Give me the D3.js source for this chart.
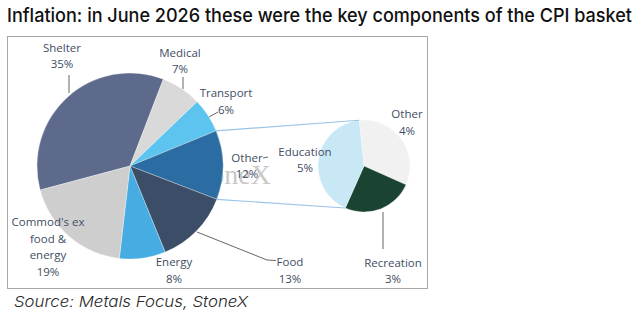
<!DOCTYPE html>
<html><head><meta charset="utf-8">
<script src="https://cdn.jsdelivr.net/npm/d3@7"></script>
<style>body{margin:0;background:#fff}svg{display:block}</style>
</head><body>
<svg id="c" width="640" height="314"></svg>
<script>
// ---- data ----
const mainCategories = ["Shelter","Medical","Transport","Other","Food","Energy","Commod's ex food & energy"];
const mainValues     = [35, 7, 6, 12, 13, 8, 19];
const subCategories  = ["Other","Recreation","Education"];
const subValues      = [4, 3, 5];
const title  = "Inflation: in June 2026 these were the key components of the CPI basket";
const source = "Source: Metals Focus, StoneX";

// ---- styles / layout ----
const mainColors = ["#5d6a8c","#d9d9d9","#5cc4ee","#2b6da2","#3b4d67","#46ace1","#cecece"];
const subColors  = ["#f1f1f1","#1a4331","#c8e8f6"];
const textColor = "#414d63";
const mainC = {x:130, y:166, r:93};
const subC  = {x:364, y:166, r:46};
const deg = Math.PI/180;

// label layout: lines, center x, first baseline, line height
const mainLabelLayout = [
  {lines:["Shelter","35%"], x:62, y:51.5},
  {lines:["Medical","7%"], x:180, y:56.5},
  {lines:["Transport","6%"], x:226, y:97},
  {lines:["Other","12%"], x:247, y:161.5},
  {lines:["Food","13%"], x:290, y:266},
  {lines:["Energy","8%"], x:174, y:266},
  {lines:["Commod's ex","food &","energy","19%"], x:48, y:226}
];
const subLabelLayout = [
  {lines:["Other","4%"], x:407, y:118},
  {lines:["Recreation","3%"], x:393, y:266.5},
  {lines:["Education","5%"], x:305, y:155.5}
];
const leaders = [
  [[69,75],[69,93]],
  [[183,77],[183,89]],
  [[209,117],[218,112]],
  [[263,158],[268,157]],
  [[197,232],[267,260],[276,260.5]],
  [[383,212],[383,249]]
];

const svg = d3.select("#c");
svg.append("rect").attr("width",640).attr("height",314).attr("fill","#fff");

// title
svg.append("text").attr("x",7).attr("y",21.5)
  .attr("font-family","Inter, 'Noto Sans', sans-serif").attr("font-weight",500)
  .attr("font-size",19).attr("fill","#111")
  .attr("textLength",625).attr("lengthAdjust","spacingAndGlyphs")
  .text(title);

// frame
svg.append("rect").attr("x",7.5).attr("y",36.5).attr("width",420).attr("height",252)
  .attr("fill","#fff").attr("stroke","#a8a8a8").attr("stroke-width",1);

// watermark
svg.append("text").attr("x",271).attr("y",184)
  .attr("text-anchor","end").attr("font-family","'Liberation Serif', 'DejaVu Serif', serif")
  .attr("font-size",28).attr("fill","#c9c9c9").text("StoneX");

// main pie
const mainPie = d3.pie().sort(null).value(d=>d)
  .startAngle(-105*deg).endAngle(255*deg);
const mainArcs = mainPie(mainValues);
const mainArc = d3.arc().innerRadius(0).outerRadius(mainC.r);
const gMain = svg.append("g").attr("transform",`translate(${mainC.x},${mainC.y})`);
gMain.selectAll("path").data(mainArcs).join("path")
  .attr("d",mainArc).attr("fill",(d,i)=>mainColors[i])
  .attr("stroke","#fff").attr("stroke-width",0.3);

// sub pie
const subPie = d3.pie().sort(null).value(d=>d)
  .startAngle(-6*deg).endAngle(354*deg);
const subArcs = subPie(subValues);
const subArc = d3.arc().innerRadius(0).outerRadius(subC.r);
const gSub = svg.append("g").attr("transform",`translate(${subC.x},${subC.y})`);
gSub.selectAll("path").data(subArcs).join("path")
  .attr("d",subArc).attr("fill",(d,i)=>subColors[i])
  .attr("stroke","#fff").attr("stroke-width",0.3);

// connector lines (from "Other" slice edges to the secondary pie)
const otherSlice = mainArcs[3];
const edu = subArcs[2];
function pt(c,a){return [c.x + c.r*Math.sin(a), c.y - c.r*Math.cos(a)];}
const conn = [
  [pt(mainC, otherSlice.startAngle), pt(subC, edu.endAngle)],
  [pt(mainC, otherSlice.endAngle), pt(subC, edu.startAngle)]
];
svg.selectAll("line.conn").data(conn).join("line").attr("class","conn")
  .attr("x1",d=>d[0][0]).attr("y1",d=>d[0][1])
  .attr("x2",d=>d[1][0]).attr("y2",d=>d[1][1])
  .attr("stroke","#9cc4e8").attr("stroke-width",1.2);

// leader lines
const line = d3.line();
svg.selectAll("path.leader").data(leaders).join("path").attr("class","leader")
  .attr("d",d=>line(d)).attr("fill","none").attr("stroke","#666").attr("stroke-width",1);

// labels
function drawLabels(layout, cats, vals){
  layout.forEach((L,i)=>{
    const t = svg.append("text").attr("text-anchor","middle")
      .attr("font-family","'Open Sans', 'Noto Sans', sans-serif").attr("font-size",11.5)
      .attr("fill",textColor);
    L.lines.forEach((s,j)=>{
      t.append("tspan").attr("x",L.x).attr("y",L.y + j*16.6).text(s);
    });
  });
}
drawLabels(mainLabelLayout, mainCategories, mainValues);
drawLabels(subLabelLayout, subCategories, subValues);

// source
svg.append("text").attr("x",14).attr("y",307)
  .attr("font-family","Inter, 'Noto Sans', sans-serif").attr("font-style","italic").attr("font-weight",300)
  .attr("font-size",15).attr("fill","#2a2a2a")
  .attr("textLength",234).attr("lengthAdjust","spacingAndGlyphs")
  .text(source);
</script>
</body></html>
